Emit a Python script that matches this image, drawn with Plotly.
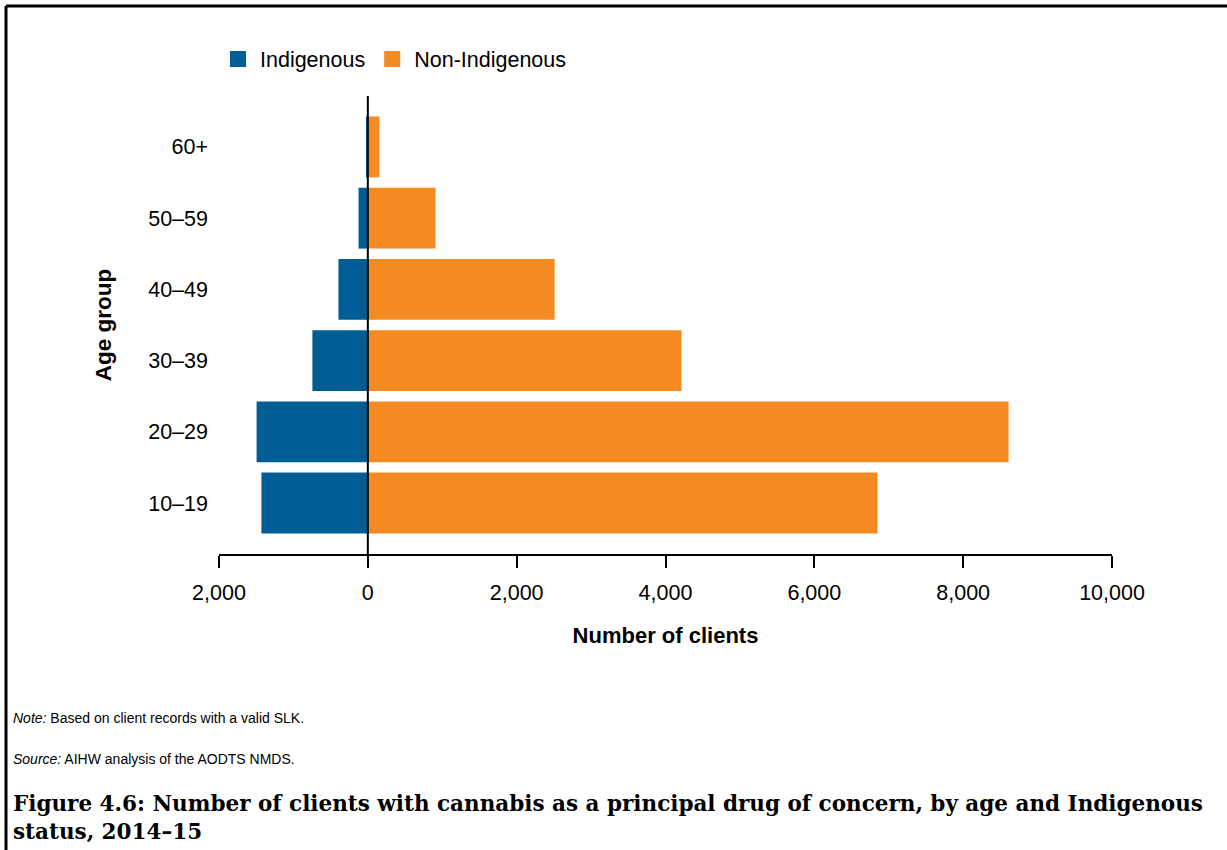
import plotly.graph_objects as go

age_groups = ["10–19", "20–29", "30–39", "40–49", "50–59", "60+"]
indigenous = [1430, 1495, 745, 395, 125, 15]
non_indigenous = [6850, 8610, 4215, 2510, 910, 155]
x_tickvals = [-2000, 0, 2000, 4000, 6000, 8000, 10000]
x_ticktext = ["2,000", "0", "2,000", "4,000", "6,000", "8,000", "10,000"]

BLUE = "#005E95"
ORANGE = "#F48A21"
FONT = "Liberation Sans, Arial, sans-serif"

W, H = 1227, 850
L, R, T, B = 219, 115, 96, 296
PW, PH = W - L - R, H - T - B

def px(xp):
    return (xp - L) / PW

def py(yp):
    return (H - B - yp) / PH

fig = go.Figure()
fig.add_trace(go.Bar(y=age_groups, x=[-v for v in indigenous], orientation="h",
                     marker=dict(color=BLUE, line=dict(width=0)), name="Indigenous",
                     showlegend=False, customdata=indigenous,
                     hovertemplate="%{y}: %{customdata}<extra>Indigenous</extra>"))
fig.add_trace(go.Bar(y=age_groups, x=non_indigenous, orientation="h",
                     marker=dict(color=ORANGE, line=dict(width=0)), name="Non-Indigenous",
                     showlegend=False,
                     hovertemplate="%{y}: %{x}<extra>Non-Indigenous</extra>"))
# legend proxies with larger square symbols
for name, col in [("Indigenous", BLUE), ("Non-Indigenous", ORANGE)]:
    fig.add_trace(go.Scatter(x=[None], y=[None], mode="markers", name=name,
                             marker=dict(symbol="square", size=17, color=col)))

fig.update_layout(
    width=W, height=H,
    margin=dict(l=L, r=R, t=T, b=B, autoexpand=False),
    paper_bgcolor="white", plot_bgcolor="white",
    barmode="overlay", bargap=0.145,
    font=dict(family=FONT, size=21, color="black"),
    legend=dict(orientation="h", x=px(216), xanchor="left", y=py(59), yanchor="middle",
                font=dict(size=21.5, color="black"), itemwidth=34, bgcolor="rgba(0,0,0,0)"),
    xaxis=dict(range=[-2000, 10000], tickvals=x_tickvals, ticktext=x_ticktext,
               showgrid=False, zeroline=False, showline=True, linecolor="black", linewidth=2,
               ticks="outside", ticklen=12, tickwidth=2, tickcolor="black",
               tickfont=dict(size=21.5, color="black"), ticklabelstandoff=6,
               title=dict(text="<b>Number of clients</b>", font=dict(size=22), standoff=24)),
    yaxis=dict(type="category", categoryorder="array", categoryarray=age_groups,
               range=[-0.715, 5.715], showgrid=False, zeroline=False, showline=False,
               ticks="", tickfont=dict(size=21.5, color="black"), ticklabelstandoff=10,
               title=dict(text="<b>Age group</b>", font=dict(size=22.5), standoff=30)),
)

# zero reference line above bars
fig.add_shape(type="line", xref="x", yref="paper", x0=0, x1=0, y0=0, y1=1,
              line=dict(color="black", width=2), layer="above")
# frame lines (left and top)
fig.add_shape(type="line", xref="paper", yref="paper", x0=px(6), x1=px(6), y0=py(6), y1=py(850),
              line=dict(color="black", width=3))
fig.add_shape(type="line", xref="paper", yref="paper", x0=px(6), x1=px(1227), y0=py(6), y1=py(6),
              line=dict(color="black", width=3))

notes = [
    ("<i>Note:</i> Based on client records with a valid SLK.", 718),
    ("<i>Source:</i> AIHW analysis of the AODTS NMDS.", 759),
]
for txt, yy in notes:
    fig.add_annotation(text=txt, xref="paper", yref="paper", x=px(11), y=py(yy),
                       xanchor="left", yanchor="middle", showarrow=False,
                       font=dict(size=14, family=FONT, color="black"))

fig.add_annotation(
    text="<b>Figure 4.6: Number of clients with cannabis as a principal drug of concern, by age and Indigenous<br>status, 2014–15</b>",
    xref="paper", yref="paper", x=px(11), y=py(789), xanchor="left", yanchor="top", align="left",
    showarrow=False, font=dict(size=21.5, family="DejaVu Serif, serif", color="black"))

fig.write_html("out.html", config={"displayModeBar": False},
               post_script="document.body.style.margin='0';document.body.style.padding='0';")
